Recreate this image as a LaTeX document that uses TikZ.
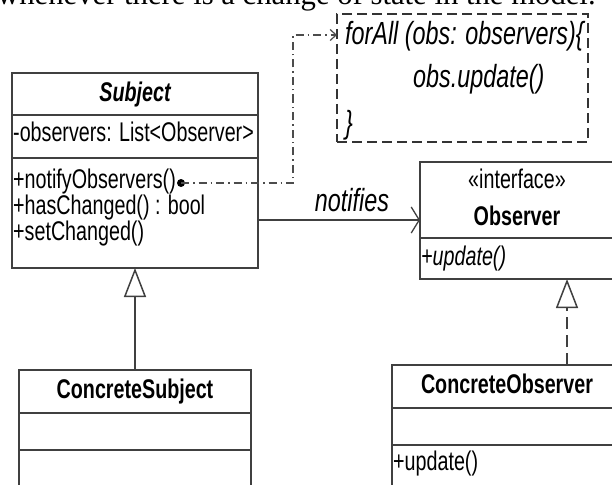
\documentclass[tikz,border=0pt]{standalone}
\usepackage{fontspec}
\setmainfont{Liberation Sans}[FakeStretch=0.73]
\newfontfamily\prosefont{Liberation Serif}
\usetikzlibrary{arrows.meta}
\begin{document}
\begin{tikzpicture}[x=1pt,y=-1pt,
  cmp/.style={draw=black!75, line width=1.6pt, inner sep=0pt, outer sep=0pt, anchor=north west},
  member/.style={inner sep=0pt, anchor=base west, font=\fontsize{27}{31}\selectfont},
  classname/.style={inner sep=0pt, anchor=base, font=\fontsize{27}{31}\selectfont\bfseries},
  notetext/.style={inner sep=0pt, anchor=base west, font=\fontsize{32}{36}\selectfont\itshape},
  gen/.style={draw=black!75, line width=1.5pt,
    -{Triangle[open, length=29pt, width=22pt, line width=1.5pt, fill=white]}},
  real/.style={gen, dash pattern=on 12pt off 6pt},
  assoc/.style={draw=black!75, line width=1.6pt,
    -{Straight Barb[length=8pt, width=26pt, line width=1.3pt]}},
  anchorline/.style={draw=black!70, line width=1.3pt,
    dash pattern=on 8pt off 4pt on 1.5pt off 4pt,
    -{Straight Barb[length=6pt, width=11pt, line width=1.2pt]}},
]
\useasboundingbox (0,0) rectangle (612,484);
\clip (0,0) rectangle (612,484);

% running text above the figure
\node[inner sep=0pt, anchor=base west, font=\prosefont\fontsize{30.7}{34}\selectfont]
  (prose) at (-3,5) {whenever there is a change of state in the model.};

% Subject
\node[cmp, minimum width=246pt, minimum height=42pt] (subjT) at (12,73) {};
\node[cmp, minimum width=246pt, minimum height=43pt] (subjA) at (subjT.south west) {};
\node[cmp, minimum width=246pt, minimum height=110pt] (subjO) at (subjA.south west) {};
\node[classname, font=\fontsize{27}{31}\selectfont\bfseries\itshape] (subjName) at (135,102) {Subject};
\node[member] (subjAttr) at (13,141) {-observers: List<Observer>};
\node[member] (subjOp1) at (13,188) {+notifyObservers()};
\node[member] (subjOp2) at (13,214) {+hasChanged() : bool};
\node[member] (subjOp3) at (13,240) {+setChanged()};

% ConcreteSubject
\node[cmp, minimum width=232pt, minimum height=43pt] (csT) at (19,370) {};
\node[cmp, minimum width=232pt, minimum height=37pt] (csA) at (csT.south west) {};
\node[cmp, minimum width=232pt, minimum height=60pt] (csO) at (csA.south west) {};
\node[classname] (csName) at (135,398) {ConcreteSubject};

% Observer interface
\node[cmp, minimum width=294pt, minimum height=76pt] (obsT) at (420,162) {};
\node[cmp, minimum width=294pt, minimum height=41pt] (obsO) at (obsT.south west) {};
\node[inner sep=0pt, anchor=base, font=\fontsize{27}{31}\selectfont] (obsSt) at (517,188) {«interface»};
\node[classname] (obsName) at (517,225) {Observer};
\node[member, font=\fontsize{27}{31}\selectfont\itshape] (obsOp) at (421,265) {+update()};

% ConcreteObserver
\node[cmp, minimum width=350pt, minimum height=43pt] (coT) at (392,365) {};
\node[cmp, minimum width=350pt, minimum height=37pt] (coA) at (coT.south west) {};
\node[cmp, minimum width=350pt, minimum height=60pt] (coO) at (coA.south west) {};
\node[classname] (coName) at (507,393) {ConcreteObserver};
\node[member] (coOp) at (393,470) {+update()};

% note attached to notifyObservers()
\node[cmp, draw=black!80, line width=1.5pt, dash pattern=on 10pt off 5pt,
  minimum width=251pt, minimum height=128pt] (note) at (337,14) {};
\node[notetext] (noteL1) at (345,45) {forAll (obs: observers)\{};
\node[notetext] (noteL2) at (413,88) {obs.update()};
\node[notetext] (noteL3) at (345,133) {\}};

% connectors
\node[circle, fill=black, inner sep=0pt, minimum size=8pt] (dot) at (181,183) {};
\coordinate (turn) at (293,35);
\draw[anchorline] (dot.center) -| (turn) -- (turn -| note.west);

\draw[gen] (csT.north) -- (subjO.south);
\draw[real] (coT.north) -- (obsO.south);

\draw[assoc] ([yshift=-7pt]subjO.east) -- ([yshift=-7pt]subjO.east -| obsT.west)
  node[pos=0.58, above=7pt, inner sep=0pt, font=\fontsize{32}{36}\selectfont\itshape] (notifies) {notifies};
\end{tikzpicture}
\end{document}
